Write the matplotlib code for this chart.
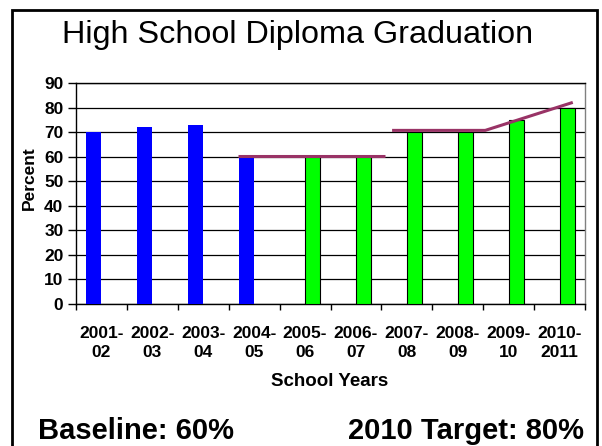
import matplotlib
matplotlib.use('Agg')
import matplotlib.pyplot as plt
from matplotlib.patches import Rectangle

plt.rcParams['font.family'] = ['Liberation Sans', 'DejaVu Sans']

# data
years = ['2001-\n02', '2002-\n03', '2003-\n04', '2004-\n05', '2005-\n06',
         '2006-\n07', '2007-\n08', '2008-\n09', '2009-\n10', '2010-\n2011']
actual_idx = [0, 1, 2, 3]
actual_pct = [70, 72, 73, 60]
target_idx = [4, 5, 6, 7, 8, 9]
target_pct = [60, 60, 70, 70, 75, 80]
# hand-drawn target line (two pieces)
goal1_x = [2.68, 5.57]
goal1_y = [60.3, 60.3]
goal2_x = [5.71, 7.54, 9.26]
goal2_y = [70.7, 70.7, 82.1]
yticks = list(range(0, 100, 10))

W, H = 602, 446
fig = plt.figure(figsize=(W / 100, H / 100), dpi=100)
ax = fig.add_axes([76 / W, (H - 304) / H, 509 / W, 221 / H])

bw = 0.3
ax.bar([i - bw for i in actual_idx], actual_pct, width=bw, align='edge',
       color='#0000FF', edgecolor='none', zorder=3)
ax.bar(target_idx, target_pct, width=bw, align='edge',
       color='#00FF00', edgecolor='black', linewidth=0.8, zorder=3)

ax.plot(goal1_x, goal1_y, color='#993366', lw=2.2, zorder=4, solid_capstyle='butt')
ax.plot(goal2_x, goal2_y, color='#993366', lw=2.2, zorder=4, solid_capstyle='butt')

ax.set_xlim(-0.5, len(years) - 0.5)
ax.set_ylim(0, 90)
ax.set_yticks(yticks)
ax.set_yticklabels([str(v) for v in yticks], fontsize=12.5, fontweight='bold')
ax.yaxis.grid(True, color='black', lw=0.9, zorder=1)
ax.set_axisbelow(True)

# category boundaries carry the ticks, labels sit at centres
ax.set_xticks([i - 0.5 for i in range(len(years) + 1)])
ax.set_xticklabels([])
ax.set_xticks(range(len(years)), minor=True)
ax.set_xticklabels(years, minor=True, fontsize=12.5, fontweight='bold',
                   linespacing=1.3)
ax.tick_params(axis='x', which='minor', length=0, pad=16)
ax.tick_params(axis='x', which='major', length=4, width=1, direction='out')
ax.tick_params(axis='y', length=6, width=1, direction='out', pad=3)

for s in ['left', 'bottom', 'top']:
    ax.spines[s].set_color('black')
    ax.spines[s].set_linewidth(1)
ax.spines['right'].set_color('#808080')
ax.spines['right'].set_linewidth(1)

fig.text(330 / W, 1 - 381 / H, 'School Years', ha='center', va='center',
         fontsize=13.5, fontweight='bold')
fig.text(29 / W, 1 - 178 / H, 'Percent', ha='center', va='center',
         rotation=90, fontsize=12.5, fontweight='bold')

fig.text(298 / W, 1 - 35 / H, 'High School Diploma Graduation',
         ha='center', va='center', fontsize=23.3)
fig.text(38 / W, 1 - 439 / H, 'Baseline: 60%', ha='left', va='baseline',
         fontsize=21, fontweight='bold')
fig.text(584 / W, 1 - 439 / H, '2010 Target: 80%', ha='right', va='baseline',
         fontsize=21, fontweight='bold')

# outer frame, open at the bottom edge
fig.add_artist(Rectangle((11.5 / W, -0.1), 585.5 / W, 1.1 - 10.5 / H,
                         transform=fig.transFigure, fill=False,
                         edgecolor='black', linewidth=2))

fig.savefig('out.png', dpi=100)
